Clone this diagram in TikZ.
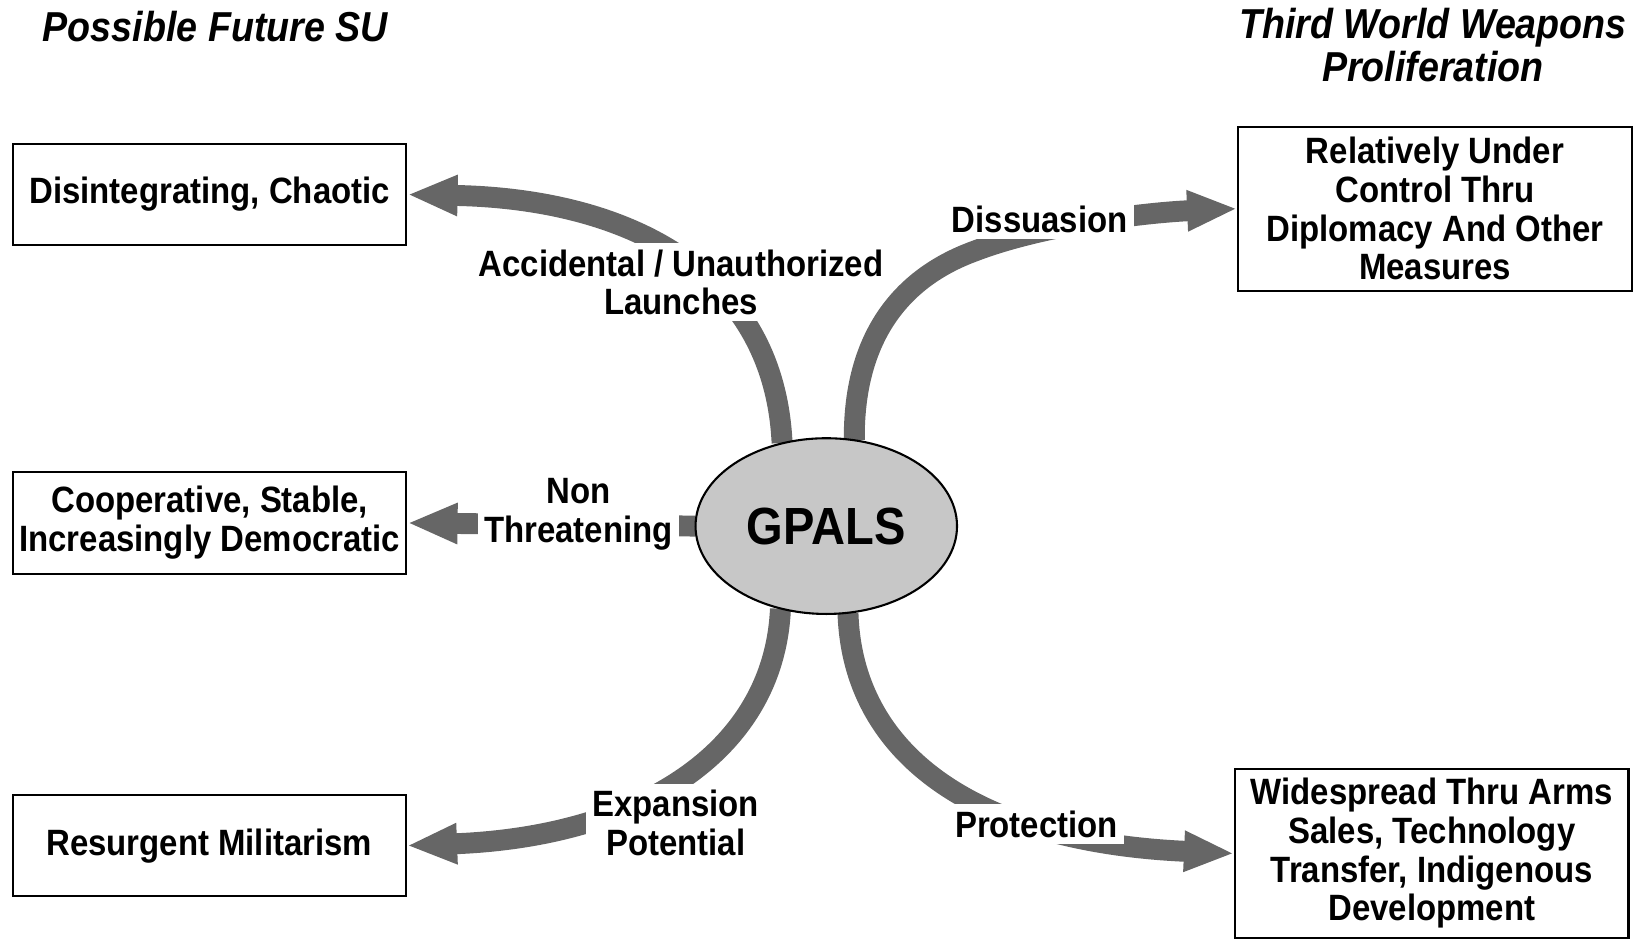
\documentclass[tikz,border=0pt]{standalone}
\usepackage{fontspec}
\setmainfont{Liberation Sans}[FakeStretch=0.9]
\usetikzlibrary{arrows.meta,shapes.geometric}
\begin{document}
\begin{tikzpicture}[x=0.5pt,y=-0.5pt,
  box/.style={draw=black,line width=1pt,align=center,font=\fontsize{17.5}{18.5}\selectfont\bfseries,minimum width=188pt,inner sep=0pt},
  lbl/.style={fill=white,align=center,font=\fontsize{17.5}{18.5}\selectfont\bfseries,inner sep=3pt},
  ttl/.style={align=center,font=\fontsize{20}{20.5}\selectfont\bfseries\itshape},
  band/.style={draw=black!60,line width=10pt,line join=round,-{Triangle[length=24pt,width=18pt]}},
]
\useasboundingbox (0,0) rectangle (1568,898);
% titles
\node[ttl] (t1) at (206,25) {Possible Future SU};
\node[ttl] (t2) at (1370,43) {Third World Weapons\\Proliferation};
% boxes
\node[box,minimum height=48.5pt] (b1) at (200.5,186) {Disintegrating, Chaotic};
\node[box,minimum height=49pt] (b2) at (200.5,500) {Cooperative, Stable,\\Increasingly Democratic};
\node[box,minimum height=48.5pt] (b3) at (200,808.5) {Resurgent Militarism};
\node[box,minimum height=78.5pt] (b4) at (1372,199.5) {Relatively Under\\Control Thru\\Diplomacy And Other\\Measures};
\node[box,minimum height=81pt] (b5) at (1369,816) {Widespread Thru Arms\\Sales, Technology\\Transfer, Indigenous\\Development};
% central ellipse (for anchors)
\node[ellipse,minimum width=125pt,minimum height=84pt,inner sep=0pt] (g) at (790,503) {};
\coordinate (d1) at (932,240);
% bands and their labels
\draw[band] (g.118) .. controls (740,260) and (600,190) .. (b1.east);
\node[lbl] (l1) at (651,270) {Accidental / Unauthorized\\Launches};
\draw[band] (g.72) .. controls (816,330) and (855,268) .. (d1) .. controls (1000,214) and (1100,203) .. (b4.west);
\node[lbl] (l2) at (994,210) {Dissuasion};
\draw[band] (g.west) -- (b2.east);
\node[lbl] (l3) at (553,492) {Non\\Threatening};
\draw[band] (g.241) .. controls (740,720) and (610,800) .. (b3.east);
\node[lbl] (l4) at (646,787) {Expansion\\Potential};
\draw[band] (g.284) .. controls (815,720) and (930,805) .. (b5.west);
\node[lbl] (l5) at (991,788) {Protection};
% ellipse drawn on top
\node[ellipse,draw=black,line width=1pt,fill=black!22,minimum width=125pt,minimum height=84pt,inner sep=0pt,font=\fontsize{25}{25}\selectfont\bfseries] (gp) at (790,503) {GPALS};
\end{tikzpicture}
\end{document}
